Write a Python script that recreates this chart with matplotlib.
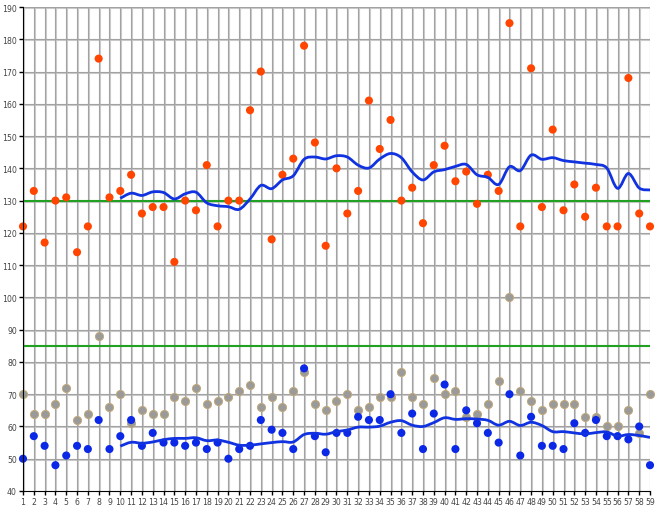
import matplotlib
matplotlib.use("Agg")
import matplotlib.pyplot as plt
import matplotlib.transforms as mtrans
from matplotlib.path import Path
from matplotlib.patches import PathPatch
import numpy as np
import pandas as pd

days = list(range(1, 60))

systolic = [122, 133, 117, 130, 131, 114, 122, 174, 131, 133,
            138, 126, 128, 128, 111, 130, 127, 141, 122, 130,
            130, 158, 170, 118, 138, 143, 178, 148, 116, 140,
            126, 133, 161, 146, 155, 130, 134, 123, 141, 147,
            136, 139, 129, 138, 133, 185, 122, 171, 128, 152,
            127, 135, 125, 134, 122, 122, 168, 126, 122]

pulse = [70, 64, 64, 67, 72, 62, 64, 88, 66, 70,
         61, 65, 64, 64, 69, 68, 72, 67, 68, 69,
         71, 73, 66, 69, 66, 71, 77, 67, 65, 68,
         70, 65, 66, 69, 69, 77, 69, 67, 75, 70,
         71, 63, 64, 67, 74, 100, 71, 68, 65, 67,
         67, 67, 63, 63, 60, 60, 65, 58, 70]

diastolic = [50, 57, 54, 48, 51, 54, 53, 62, 53, 57,
             62, 54, 58, 55, 55, 54, 55, 53, 55, 50,
             53, 54, 62, 59, 58, 53, 78, 57, 52, 58,
             58, 63, 62, 62, 70, 58, 64, 53, 64, 73,
             53, 65, 61, 58, 55, 70, 51, 63, 54, 54,
             53, 61, 58, 62, 57, 57, 56, 60, 48]

limit_sys = 130
limit_dia = 85
window = 10


def smooth_path(xs, ys):
    """Catmull-Rom curve through the points, as a bezier path."""
    pts = np.column_stack([xs, ys])
    verts = [pts[0]]
    codes = [Path.MOVETO]
    for i in range(len(pts) - 1):
        p0 = pts[max(i - 1, 0)]
        p1 = pts[i]
        p2 = pts[i + 1]
        p3 = pts[min(i + 2, len(pts) - 1)]
        verts += [p1 + (p2 - p0) / 6, p2 - (p3 - p1) / 6, p2]
        codes += [Path.CURVE4] * 3
    return Path(verts, codes)


fig = plt.figure(figsize=(6.56, 5.06), dpi=100)
ax = fig.add_axes([23 / 656, 14 / 506, 627 / 656, 484 / 506])
ax.set_xlim(1, 59)
ax.set_ylim(40, 190)

# grid: dark line with a light shadow next to it
shift_x = mtrans.ScaledTranslation(1.0 / 100, 0, fig.dpi_scale_trans)
shift_y = mtrans.ScaledTranslation(0, -1.0 / 100, fig.dpi_scale_trans)
for d in days:
    ax.plot([d, d], [0, 1], color="#cccccc", lw=0.8, zorder=1,
            transform=ax.get_xaxis_transform() + shift_x)
    ax.axvline(d, color="#a2a2a2", lw=0.8, zorder=1.5)
for v in range(50, 200, 10):
    ax.plot([0, 1], [v, v], color="#cccccc", lw=0.8, zorder=1,
            transform=ax.get_yaxis_transform() + shift_y)
    ax.axhline(v, color="#a2a2a2", lw=0.8, zorder=1.5)

ax.axhline(limit_sys, color="#22a022", lw=1.5, zorder=2)
ax.axhline(limit_dia, color="#22a022", lw=1.5, zorder=2)

ax.scatter(days, pulse, s=34, color="#9a9a9a", edgecolors="#c0a878",
           linewidths=0.7, zorder=3, clip_on=False)
ax.scatter(days, systolic, s=34, color="#ff4500", edgecolors="none",
           zorder=4, clip_on=False)
ax.scatter(days, diastolic, s=34, color="#0a28e6", edgecolors="none",
           zorder=4, clip_on=False)

# 10-day moving averages
for series in (systolic, diastolic):
    ma = pd.Series(series, index=days).rolling(window).mean().dropna()
    path = smooth_path(np.array(ma.index, float), ma.values)
    ax.add_patch(PathPatch(path, facecolor="none", edgecolor="#1032e0",
                           lw=2, zorder=5))

ax.set_xticks(days)
ax.set_yticks(range(40, 191, 10))
ax.tick_params(labelsize=5.6, labelcolor="#444444", length=3, width=1,
               pad=1.5)
for side in ("top", "right"):
    ax.spines[side].set_visible(False)
ax.spines["left"].set_zorder(6)
ax.spines["bottom"].set_zorder(6)

fig.savefig("out.png", dpi=100)
